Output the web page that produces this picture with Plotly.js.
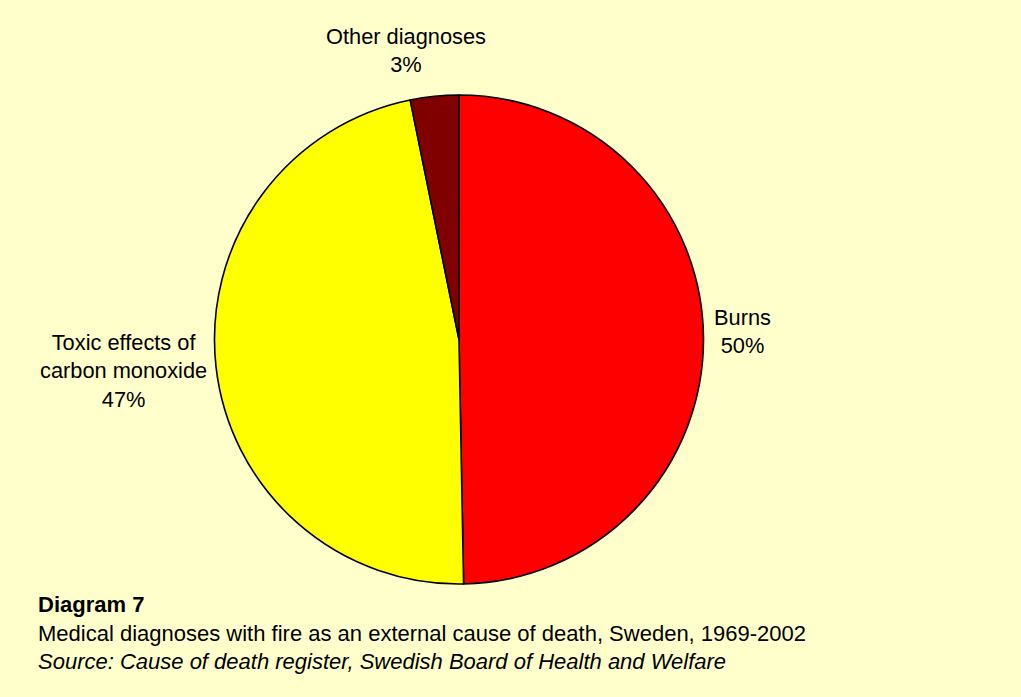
<!DOCTYPE html>
<html>
<head>
<meta charset="utf-8">
<script src="https://cdn.plot.ly/plotly-3.0.1.min.js"></script>
<style>
html,body{margin:0;padding:0;background:#FFFFCC;}
#chart{width:1021px;height:697px;}
</style>
</head>
<body>
<div id="chart"></div>
<script>
// Data
const categories = ["Burns", "Toxic effects of<br>carbon monoxide", "Other diagnoses"];
const values = [49.7, 47.1, 3.2];
const colors = ["#FF0000", "#FFFF00", "#800000"];
const captionTitle = "Diagram 7";
const captionText = "Medical diagnoses with fire as an external cause of death, Sweden, 1969-2002";
const captionSource = "Source: Cause of death register, Swedish Board of Health and Welfare";

const W = 1021, H = 697;
const total = values.reduce((a, b) => a + b, 0);
const pct = values.map(v => Math.round(v / total * 100) + "%");

// label placement (pixel centers)
const labelPos = [
  {x: 742, y: 331},
  {x: 123, y: 371},
  {x: 406, y: 50}
];

const annotations = categories.map((c, i) => ({
  text: c + "<br>" + pct[i],
  xref: "paper", yref: "paper",
  x: labelPos[i].x / W, y: 1 - labelPos[i].y / H,
  xanchor: "center", yanchor: "middle",
  showarrow: false,
  align: "center",
  font: {family: "Liberation Sans, Arial, sans-serif", size: 21.8, color: "#000000"}
}));

const capFont = {family: "Liberation Sans, Arial, sans-serif", size: 22, color: "#000000"};
annotations.push(
  {text: "<b>" + captionTitle + "</b>", xref: "paper", yref: "paper", x: 36 / W, y: 1 - 604 / H,
   xanchor: "left", yanchor: "middle", showarrow: false, font: capFont},
  {text: captionText, xref: "paper", yref: "paper", x: 36 / W, y: 1 - 633 / H,
   xanchor: "left", yanchor: "middle", showarrow: false, font: capFont},
  {text: "<i>" + captionSource + "</i>", xref: "paper", yref: "paper", x: 36 / W, y: 1 - 661 / H,
   xanchor: "left", yanchor: "middle", showarrow: false, font: capFont}
);

const cx = 459, cy = 339.5, r = 244.5;
const trace = {
  type: "pie",
  labels: categories,
  values: values,
  sort: false,
  direction: "clockwise",
  rotation: 0,
  textinfo: "none",
  hoverinfo: "label+percent",
  marker: {colors: colors, line: {color: "#000000", width: 1.6}},
  domain: {x: [(cx - r) / W, (cx + r) / W], y: [1 - (cy + r) / H, 1 - (cy - r) / H]},
  showlegend: false
};

const layout = {
  width: W, height: H,
  margin: {l: 0, r: 0, t: 0, b: 0},
  paper_bgcolor: "#FFFFCC",
  plot_bgcolor: "#FFFFCC",
  showlegend: false,
  annotations: annotations
};

Plotly.newPlot("chart", [trace], layout, {displayModeBar: false, staticPlot: true});
</script>
</body>
</html>
